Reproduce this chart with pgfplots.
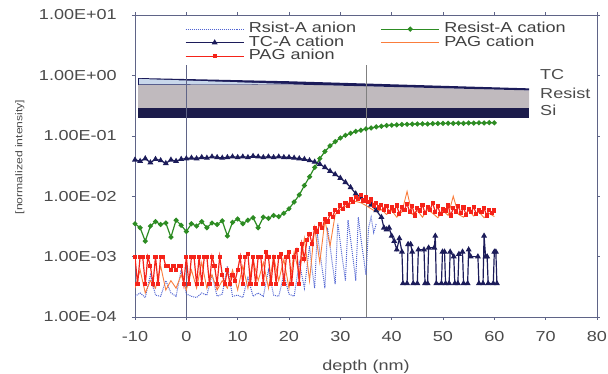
\documentclass[border=0pt]{standalone}
\usepackage{fontspec}
\setmainfont{Liberation Sans}[FakeStretch=1.25]
\usepackage{pgfplots}
\pgfplotsset{compat=1.18}
\definecolor{navyc}{RGB}{28,28,90}
\definecolor{greenc}{RGB}{45,140,35}
\definecolor{redc}{RGB}{245,35,25}
\definecolor{orangec}{RGB}{250,125,60}
\definecolor{bluec}{RGB}{80,100,210}
\definecolor{bandgray}{RGB}{192,186,190}
\definecolor{sic}{RGB}{28,28,75}
\definecolor{tcc}{RGB}{200,215,235}
\definecolor{axisc}{RGB}{95,100,135}
\definecolor{labc}{RGB}{75,75,75}
\newcommand{\tf}{\fontsize{14.5}{16}\selectfont}
\begin{document}
\begin{tikzpicture}
\useasboundingbox (0,0) rectangle (608bp,374bp);
\begin{axis}[
 at={(135bp,57bp)}, anchor=south west, scale only axis, width=462bp, height=302bp,
 xmin=-10, xmax=80, ymode=log, ymin=1e-4, ymax=10,
 xtick={-10,0,10,20,30,40,50,60,70,80},
 xticklabels={-10,0,10,20,30,40,50,60,70,80},
 ytick={1e-4,1e-3,1e-2,1e-1,1,10},
 yticklabels={1.00E-04,1.00E-03,1.00E-02,1.00E-01,1.00E+00,1.00E+01},
 yminorticks=false,
 tick align=outside, major tick length=3bp,
 tick style={color=axisc, line width=0.6pt},
 axis line style={draw=axisc, line width=0.8pt},
 tick label style={font=\tf, text=labc},
 xticklabel style={anchor=north, inner sep=0pt, yshift=-11bp},
 yticklabel style={anchor=east, inner sep=0pt, xshift=-15bp},
 xlabel={depth (nm)},
 xlabel style={at={(axis description cs:0.5,0)}, anchor=center, yshift=-50bp, font=\tf, text=labc},
 ylabel={{[}normalized intensity{]}},
 ylabel style={at={(axis description cs:-0.249,0.53)}, anchor=center, font=\fontsize{9.8}{11}\selectfont, text=labc},
 legend columns=2,
 legend cell align=left,
 legend style={at={(0.108,0.975)}, anchor=north west, draw=none, fill=none, font=\tf, text=black!75,
   inner sep=0pt, row sep=0.5pt,
   nodes={inner xsep=4.5pt, inner ysep=0.5pt, text height=9.5pt, text depth=2.5pt},
   /tikz/every even column/.append style={column sep=20bp}},
 legend image code/.code={\draw[mark repeat=2,mark phase=2,#1] plot coordinates {(0bp,0bp) (29bp,0bp) (58bp,0bp)};},
]
% layer schematic
\addplot[draw=none, fill=sic, forget plot] coordinates {(-9.4,0.20) (66.8,0.20) (66.8,0.29) (-9.4,0.29)} --cycle;
\addplot[draw=none, fill=bandgray, forget plot] coordinates {(-9.4,0.29) (66.8,0.29) (66.8,0.565) (20,0.71) (-9.4,0.695)} --cycle;
\addplot[draw=none, fill=navyc, forget plot] coordinates {(-9.4,0.695) (20,0.71) (66.8,0.565) (66.8,0.61) (20,0.80) (-9.4,0.905)} --cycle;
\addplot[draw=none, fill=tcc, forget plot] coordinates {(-9.2,0.71) (21,0.715) (-9.2,0.875)} --cycle;
\addplot[axisc, line width=0.6pt, forget plot] coordinates {(0,1e-4) (0,1.5)};
\addplot[gray, line width=0.6pt, forget plot] coordinates {(35,1e-4) (35,1.5)};
% Rsist-A anion
\addplot[bluec, densely dotted, line width=1pt, mark=none] coordinates {
(-10,0.00022) (-9,0.00025) (-8,0.00021) (-7,0.0005) (-6,0.00023) (-5,0.00022) (-4,0.0004) (-3,0.00025) (-2,0.00022) (-1,0.0006)
(0,0.00024) (1,0.00022) (2,0.00021) (3,0.00025) (4,0.00023) (5,0.0005) (6,0.00022) (7,0.00024) (8,0.0007) (9,0.00022)
(10,0.00023) (11,0.00021) (12,0.00045) (13,0.00022) (14,0.00025) (15,0.00022) (16,0.0006) (17,0.00023) (18,0.00022) (19,0.0005)
(20,0.00024) (21,0.00022) (22,0.0008) (23,0.0003) (24,0.0015)
(24.5,0.0006) (25,0.0003) (25.5,0.0025) (26,0.0012) (26.5,0.0006) (27,0.0003) (27.5,0.0030) (28,0.0015) (28.5,0.0007) (29,0.00035)
(29.5,0.0035) (30,0.0017) (30.5,0.0008) (31,0.0004) (31.5,0.0040) (32,0.0019) (32.5,0.0009) (33,0.0004) (33.5,0.0045) (34,0.0020)
(34.5,0.0010) (35,0.0005) (35.5,0.0030) (36,0.0045) (36.5,0.0025) (37,0.0035)
};
\addlegendentry{Rsist-A anion}
% Resist-A cation
\addplot[greenc, line width=1.2pt, mark=*, mark size=1.9pt] coordinates {
(-10,0.0035) (-9,0.0030) (-8,0.0018) (-7,0.0032) (-6,0.0038) (-5,0.0034) (-4,0.0036) (-3,0.0021) (-2,0.0040) (-1,0.0033)
(0,0.0026) (1,0.0035) (2,0.0032) (3,0.0038) (4,0.0030) (5,0.0036) (6,0.0034) (7,0.0039) (8,0.0022) (9,0.0037)
(10,0.0042) (11,0.0035) (12,0.0040) (13,0.0044) (14,0.0030) (15,0.0045) (16,0.0043) (17,0.0048) (18,0.0046) (19,0.0052)
(20,0.0062) (21,0.0080) (22,0.0105) (23,0.015) (24,0.021) (25,0.030) (26,0.042) (27,0.055) (28,0.068) (29,0.080)
(30,0.092) (31,0.102) (32,0.110) (33,0.118) (34,0.124) (35,0.130) (36,0.135) (37,0.140) (38,0.144) (39,0.148)
(40,0.150) (41,0.152) (42,0.154) (43,0.155) (44,0.156) (45,0.157) (46,0.158) (47,0.157) (48,0.159) (49,0.160)
(50,0.160) (51,0.161) (52,0.160) (53,0.162) (54,0.161) (55,0.163) (56,0.162) (57,0.164) (58,0.163) (59,0.165) (60,0.164)
};
\addlegendentry{Resist-A cation}
% TC-A cation
\addplot[navyc, line width=1.2pt, mark=triangle*, mark size=2.3pt] coordinates {
(-10,0.040) (-9,0.038) (-8,0.042) (-7,0.036) (-6,0.041) (-5,0.039) (-4,0.035) (-3,0.040) (-2,0.038) (-1,0.041)
(0,0.042) (1,0.043) (2,0.042) (3,0.044) (4,0.043) (5,0.045) (6,0.044) (7,0.043) (8,0.044) (9,0.045)
(10,0.044) (11,0.045) (12,0.044) (13,0.046) (14,0.045) (15,0.044) (16,0.045) (17,0.044) (18,0.045) (19,0.044)
(20,0.044) (21,0.043) (22,0.042) (23,0.041) (24,0.039) (25,0.037) (26,0.034) (27,0.030) (28,0.026) (29,0.023)
(30,0.020) (31,0.017) (32,0.014) (33,0.011) (34,0.0095) (35,0.0085) (36,0.0072) (37,0.0058) (38,0.0045) (38.5,0.0030)
(39,0.0028) (39.5,0.0030) (40,0.0022) (40.5,0.0018) (41,0.0013) (41.5,0.0020) (42,0.0012) (42.2,0.00036) (43,0.00036) (43.2,0.0016)
(43.7,0.0016) (44,0.0012) (44.2,0.00036) (45,0.00036) (45.2,0.0013) (46.3,0.0013) (46.5,0.00036) (47,0.00036) (47.2,0.0014) (48.3,0.0014)
(48.5,0.0022) (48.7,0.00036) (49.7,0.00036) (49.9,0.0012) (50.3,0.0012) (50.5,0.00036) (51.2,0.00036) (51.4,0.0012) (52.1,0.0010) (52.3,0.00036)
(52.9,0.00036) (53.1,0.0011) (53.8,0.0012) (54,0.00036) (54.8,0.00036) (55,0.0013) (55.4,0.0010) (56.8,0.0010) (57,0.00036) (57.8,0.00036)
(58,0.0022) (58.3,0.0010) (58.6,0.0010) (58.8,0.00036) (59.8,0.00036) (60,0.0012) (60.3,0.0012) (60.5,0.00036)
};
\addlegendentry{TC-A cation}
% PAG cation
\addplot[orangec, line width=0.9pt, mark=none] coordinates {
(-10,0.0003) (-9,0.0006) (-8,0.00025) (-7,0.0004) (-6,0.0003) (-5,0.0007) (-4,0.00028) (-3,0.0004) (-2,0.0003) (-1,0.0005)
(0,0.00028) (1,0.0006) (2,0.0003) (3,0.0008) (4,0.0003) (5,0.0005) (6,0.00028) (7,0.0004) (8,0.0003) (9,0.0006)
(10,0.00028) (11,0.0007) (12,0.0003) (13,0.0009) (14,0.0004) (15,0.0008) (16,0.0003) (17,0.0010) (18,0.0004) (19,0.0009)
(20,0.0003) (21,0.0012) (22,0.0005) (23,0.0020) (24,0.0004) (25,0.0030) (26,0.0008) (27,0.0040) (28,0.0015) (29,0.0050)
(30,0.0060) (31,0.0068) (32,0.0075) (33,0.0082) (34,0.0078) (35,0.0070) (36,0.0062) (37,0.0055) (38,0.0060) (39,0.0050)
(40,0.0058) (41,0.0045) (42,0.0055) (43,0.0120) (44,0.0050) (45,0.0058) (46,0.0045) (47,0.0060) (48,0.0052) (49,0.0044)
(50,0.0058) (51,0.0048) (52,0.0100) (53,0.0050) (54,0.0045) (55,0.0058) (56,0.0047) (57,0.0055) (58,0.0044) (59,0.0052) (60,0.0046)
};
\addlegendentry{PAG cation}
% PAG anion
\addplot[redc, line width=1.2pt, mark=square*, mark size=1.5pt] coordinates {
(-10,0.0010) (-9.5,0.00035) (-9,0.0010) (-8.5,0.0010) (-8,0.00035) (-7.5,0.0010) (-7,0.0007) (-6.5,0.00035) (-6,0.0010) (-5.5,0.00035) (-5,0.0010) (-4.5,0.0010)
(-4,0.0007) (-3.5,0.0007) (-3,0.0006) (-2.5,0.0007) (-2,0.0006) (-1.5,0.0007) (-1,0.0007) (-0.5,0.00035)
(0,0.0010) (0.5,0.00035) (1,0.0010) (1.5,0.0010) (2,0.00035) (2.5,0.0010) (3,0.00035) (3.5,0.0010) (4,0.0010) (4.5,0.00035) (5,0.0010) (5.5,0.0007) (6,0.00035) (6.5,0.0010)
(7,0.0005) (7.5,0.00035) (8,0.0006) (8.5,0.00035) (9,0.0005) (9.5,0.0004) (10,0.0006)
(10.5,0.0010) (11,0.00035) (11.5,0.0010) (12,0.0011) (12.5,0.00035) (13,0.0010) (13.5,0.00035) (14,0.0010) (14.5,0.0010) (15,0.00035) (15.5,0.0012) (16,0.0010)
(16.5,0.00035) (17,0.0010) (17.5,0.00035) (18,0.0010) (18.5,0.0011) (19,0.00035) (19.5,0.0010) (20,0.0012) (20.5,0.00035) (21,0.0010) (21.5,0.0013) (22,0.00035)
(22.5,0.0016) (23,0.0009) (23.5,0.0019) (24,0.0024) (24.5,0.0016) (25,0.0030) (25.5,0.0026) (26,0.0035) (26.5,0.0030) (27,0.0042) (27.5,0.0038) (28,0.0050)
(28.5,0.0045) (29,0.0060) (29.5,0.0055) (30,0.0070) (30.5,0.0062) (31,0.0078) (31.5,0.0070) (32,0.0088) (32.5,0.0080) (33,0.0098) (33.5,0.0090) (34,0.0105)
(34.5,0.0085) (35,0.0095) (35.5,0.0080) (36,0.0088) (36.5,0.0070) (37,0.0078) (37.5,0.0065) (38,0.0072) (38.5,0.0060) (39,0.0068) (39.5,0.0055) (40,0.0065)
(40.5,0.0058) (41,0.0070) (41.5,0.0050) (42,0.0066) (42.5,0.0060) (43,0.0075) (43.5,0.0055) (44,0.0068) (44.5,0.0048) (45,0.0064) (45.5,0.0058) (46,0.0072)
(46.5,0.0052) (47,0.0066) (47.5,0.0060) (48,0.0078) (48.5,0.0054) (49,0.0068) (49.5,0.0050) (50,0.0062) (50.5,0.0058) (51,0.0070) (51.5,0.0048) (52,0.0063)
(52.5,0.0056) (53,0.0068) (53.5,0.0052) (54,0.0065) (54.5,0.0049) (55,0.0062) (55.5,0.0055) (56,0.0066) (56.5,0.0050) (57,0.0060) (57.5,0.0054) (58,0.0064)
(58.5,0.0048) (59,0.0060) (59.5,0.0052) (60,0.0058)
};
\addlegendentry{PAG anion}
\node[anchor=west, font=\tf, text=labc, inner sep=0pt] at (axis cs:68.9,1.015) {TC};
\node[anchor=west, font=\tf, text=labc, inner sep=0pt] at (axis cs:68.9,0.51) {Resist};
\node[anchor=west, font=\tf, text=labc, inner sep=0pt] at (axis cs:68.9,0.267) {Si};
\end{axis}
\end{tikzpicture}
\end{document}
